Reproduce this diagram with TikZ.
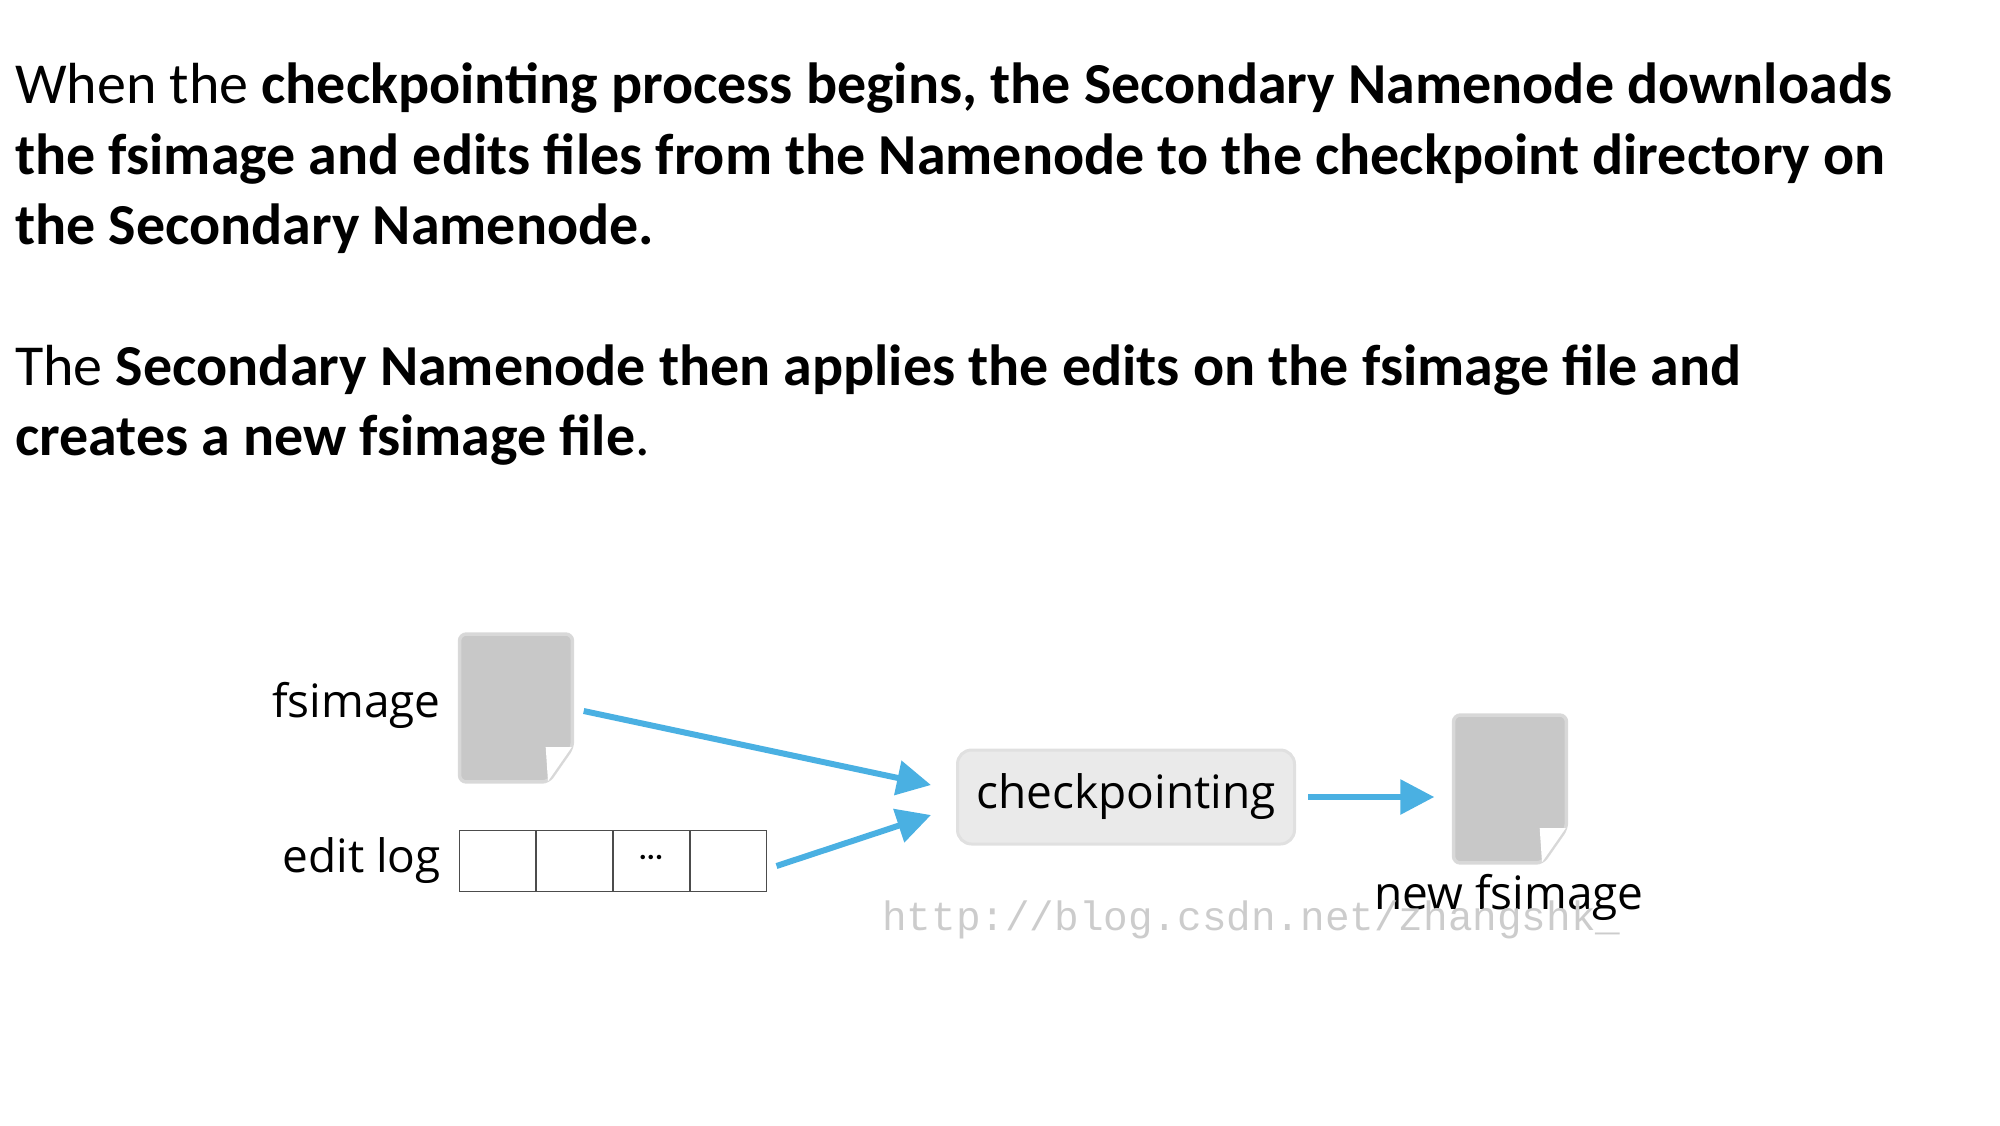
\documentclass[tikz,border=0pt]{standalone}
\usepackage{fontspec}
\setmainfont{Carlito}
\newfontfamily\diafont{Open Sans}
\newfontfamily\wmfont{Liberation Mono}
\usetikzlibrary{arrows.meta}
\definecolor{arrowblue}{RGB}{74,176,226}
\definecolor{docgray}{RGB}{200,200,200}
\definecolor{boxgray}{RGB}{234,234,234}
\begin{document}
\begin{tikzpicture}[x=1pt,y=-1pt,
  para/.style={anchor=base west,inner sep=0,font=\fontsize{58}{60}\selectfont},
  lbl/.style={inner sep=0,font=\diafont\fontsize{46}{50}\selectfont},
  docnode/.style={minimum width=115,minimum height=142,inner sep=0},
  conn/.style={draw=arrowblue,line width=6,-{Triangle[length=34,width=34]}},
  cell/.style={draw=black!70,line width=1,minimum width=76,minimum height=61,inner sep=0}]
\useasboundingbox (0,0) rectangle (2000,1125);
\node[para] (l1) at (15,103) {When the \textbf{checkpointing process begins, the Secondary Namenode downloads}};
\node[para] (l2) at (15,174) {\textbf{the fsimage and edits files from the Namenode to the checkpoint directory on}};
\node[para] (l3) at (15,244) {\textbf{the Secondary Namenode.}};
\node[para] (l4) at (15,385) {The \textbf{Secondary Namenode then applies the edits on the fsimage file and}};
\node[para] (l5) at (15,455) {\textbf{creates a new fsimage file}.};
% documents
\newcommand{\docshape}[1]{%
  \draw[black!15,line width=5,rounded corners=6,fill=docgray]
    ([xshift=2,yshift=2]#1.north west) -- ([xshift=-2,yshift=2]#1.north east) -- ([xshift=-2,yshift=32]#1.south east)
    -- ([xshift=32,yshift=-2]#1.south) -- ([xshift=2,yshift=-2]#1.south west) -- cycle;
  \draw[docgray!70!white,line width=2,rounded corners=6,fill=docgray]
    ([xshift=2,yshift=2]#1.north west) -- ([xshift=-2,yshift=2]#1.north east) -- ([xshift=-2,yshift=32]#1.south east)
    -- ([xshift=32,yshift=-2]#1.south) -- ([xshift=2,yshift=-2]#1.south west) -- cycle;
  \fill[white] ([xshift=-2,yshift=32]#1.south east) -- ([xshift=-28,yshift=32]#1.south east) -- ([xshift=32,yshift=-2]#1.south) -- cycle;
}
\node[docnode] (fs) at (516,708) {};
\docshape{fs}
\node[docnode] (nfs) at (1510,789) {};
\docshape{nfs}
\node[lbl,anchor=east] (fsl) at (441,705) {fsimage};
\node[lbl,anchor=east] (ell) at (441,861) {edit log};
\node[lbl] (nfsl) at (1509,897) {new fsimage};
% edit log cells
\node[cell] (c1) at (497,861) {};
\node[cell,anchor=west] (c2) at (c1.east) {};
\node[cell,anchor=west] (c3) at (c2.east) {\bfseries\fontsize{30}{30}\selectfont\raisebox{8pt}{...}};
\node[cell,anchor=west] (c4) at (c3.east) {};
% checkpointing
\node[draw=black!12,line width=3,fill=boxgray,rounded corners=14,minimum width=337,minimum height=94,lbl] (cp) at (1126,797) {checkpointing};
% watermark
\node[inner sep=0,text=black!20,font=\wmfont\fontsize{41}{41}\selectfont,anchor=west] (wm) at (882,920) {http://blog.csdn.net/zhangshk\_};
% connectors
\draw[conn] ([xshift=10,yshift=-3]fs.east) -- ([xshift=-25,yshift=12]cp.west);
\draw[conn] ([xshift=10,yshift=-5]c4.east) -- ([xshift=-25,yshift=-18]cp.west);
\draw[conn] ([xshift=12]cp.east) -- ([xshift=-18,yshift=-8]nfs.west);
\end{tikzpicture}
\end{document}
